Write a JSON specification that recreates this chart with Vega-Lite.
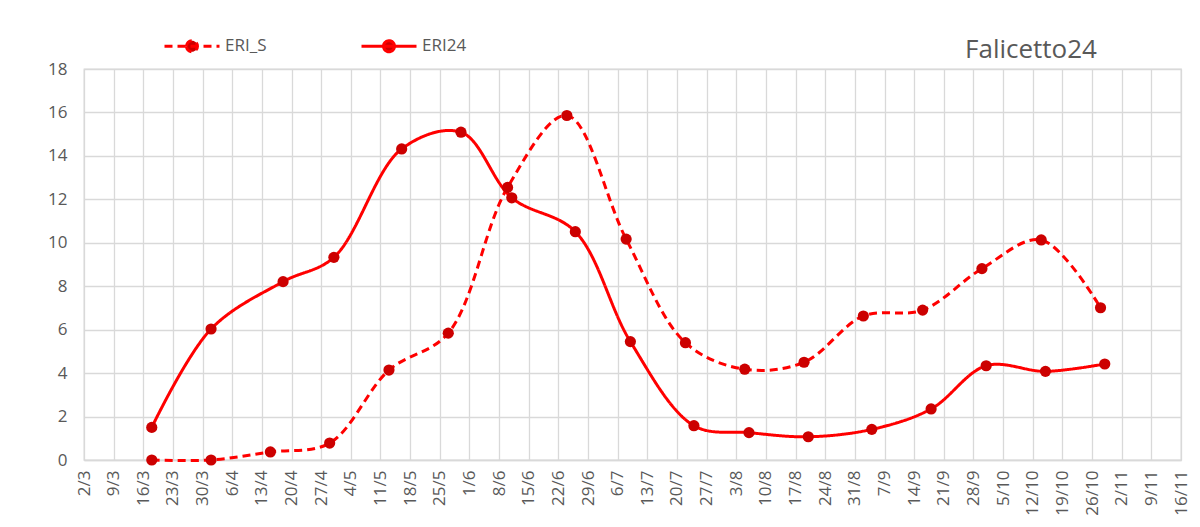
{
  "$schema": "https://vega.github.io/schema/vega-lite/v6.json",
  "autosize": "none",
  "width": 1097,
  "height": 391,
  "padding": {"left": 84, "top": 69, "right": 19, "bottom": 67},
  "background": "white",
  "title": {
    "text": "Falicetto24",
    "anchor": "end",
    "frame": "group",
    "orient": "top",
    "dx": -84,
    "dy": 78,
    "offset": 11,
    "baseline": "alphabetic",
    "font": "Open Sans",
    "fontSize": 26,
    "fontWeight": "normal",
    "color": "#595959"
  },
  "config": {
    "view": {"stroke": "#d9d9d9", "strokeWidth": 1.3},
    "axis": {
      "labelFont": "Open Sans",
      "labelFontSize": 17,
      "labelColor": "#595959",
      "gridColor": "#d9d9d9",
      "gridWidth": 1.3,
      "ticks": false,
      "title": null
    }
  },
  "data": {
    "values": [
      {"series": "ERI_S", "date": "2024-03-18T00:00:00", "value": 0},
      {"series": "ERI_S", "date": "2024-04-01T00:00:00", "value": 0},
      {"series": "ERI_S", "date": "2024-04-15T00:00:00", "value": 0.37},
      {"series": "ERI_S", "date": "2024-04-29T00:00:00", "value": 0.78},
      {"series": "ERI_S", "date": "2024-05-13T00:00:00", "value": 4.14},
      {"series": "ERI_S", "date": "2024-05-27T00:00:00", "value": 5.84},
      {"series": "ERI_S", "date": "2024-06-10T00:00:00", "value": 12.55},
      {"series": "ERI_S", "date": "2024-06-24T00:00:00", "value": 15.86},
      {"series": "ERI_S", "date": "2024-07-08T00:00:00", "value": 10.17},
      {"series": "ERI_S", "date": "2024-07-22T00:00:00", "value": 5.4},
      {"series": "ERI_S", "date": "2024-08-05T00:00:00", "value": 4.18},
      {"series": "ERI_S", "date": "2024-08-19T00:00:00", "value": 4.5},
      {"series": "ERI_S", "date": "2024-09-02T00:00:00", "value": 6.63},
      {"series": "ERI_S", "date": "2024-09-16T00:00:00", "value": 6.9},
      {"series": "ERI_S", "date": "2024-09-30T00:00:00", "value": 8.81},
      {"series": "ERI_S", "date": "2024-10-14T00:00:00", "value": 10.13},
      {"series": "ERI_S", "date": "2024-10-28T00:00:00", "value": 7.01},
      {"series": "ERI24", "date": "2024-03-18T00:00:00", "value": 1.5},
      {"series": "ERI24", "date": "2024-04-01T00:00:00", "value": 6.03},
      {"series": "ERI24", "date": "2024-04-18T00:00:00", "value": 8.21},
      {"series": "ERI24", "date": "2024-04-30T00:00:00", "value": 9.33},
      {"series": "ERI24", "date": "2024-05-16T00:00:00", "value": 14.32},
      {"series": "ERI24", "date": "2024-05-30T00:00:00", "value": 15.09},
      {"series": "ERI24", "date": "2024-06-11T00:00:00", "value": 12.07},
      {"series": "ERI24", "date": "2024-06-26T00:00:00", "value": 10.51},
      {"series": "ERI24", "date": "2024-07-09T00:00:00", "value": 5.45},
      {"series": "ERI24", "date": "2024-07-24T00:00:00", "value": 1.58},
      {"series": "ERI24", "date": "2024-08-06T00:00:00", "value": 1.26},
      {"series": "ERI24", "date": "2024-08-20T00:00:00", "value": 1.07},
      {"series": "ERI24", "date": "2024-09-04T00:00:00", "value": 1.41},
      {"series": "ERI24", "date": "2024-09-18T00:00:00", "value": 2.35},
      {"series": "ERI24", "date": "2024-10-01T00:00:00", "value": 4.34},
      {"series": "ERI24", "date": "2024-10-15T00:00:00", "value": 4.08},
      {"series": "ERI24", "date": "2024-10-29T00:00:00", "value": 4.42}
    ]
  },
  "encoding": {
    "x": {
      "field": "date",
      "type": "temporal",
      "scale": {
        "domain": [
          {"year": 2024, "month": 3, "date": 2},
          {"year": 2024, "month": 11, "date": 16}
        ]
      },
      "axis": {
        "format": "%-d/%-m",
        "labelAngle": -90,
        "labelPadding": 10,
        "labelOverlap": false,
        "domainColor": "#d9d9d9",
        "domainWidth": 1.3,
        "values": [
          {"year": 2024, "month": 3, "date": 2},
          {"year": 2024, "month": 3, "date": 9},
          {"year": 2024, "month": 3, "date": 16},
          {"year": 2024, "month": 3, "date": 23},
          {"year": 2024, "month": 3, "date": 30},
          {"year": 2024, "month": 4, "date": 6},
          {"year": 2024, "month": 4, "date": 13},
          {"year": 2024, "month": 4, "date": 20},
          {"year": 2024, "month": 4, "date": 27},
          {"year": 2024, "month": 5, "date": 4},
          {"year": 2024, "month": 5, "date": 11},
          {"year": 2024, "month": 5, "date": 18},
          {"year": 2024, "month": 5, "date": 25},
          {"year": 2024, "month": 6, "date": 1},
          {"year": 2024, "month": 6, "date": 8},
          {"year": 2024, "month": 6, "date": 15},
          {"year": 2024, "month": 6, "date": 22},
          {"year": 2024, "month": 6, "date": 29},
          {"year": 2024, "month": 7, "date": 6},
          {"year": 2024, "month": 7, "date": 13},
          {"year": 2024, "month": 7, "date": 20},
          {"year": 2024, "month": 7, "date": 27},
          {"year": 2024, "month": 8, "date": 3},
          {"year": 2024, "month": 8, "date": 10},
          {"year": 2024, "month": 8, "date": 17},
          {"year": 2024, "month": 8, "date": 24},
          {"year": 2024, "month": 8, "date": 31},
          {"year": 2024, "month": 9, "date": 7},
          {"year": 2024, "month": 9, "date": 14},
          {"year": 2024, "month": 9, "date": 21},
          {"year": 2024, "month": 9, "date": 28},
          {"year": 2024, "month": 10, "date": 5},
          {"year": 2024, "month": 10, "date": 12},
          {"year": 2024, "month": 10, "date": 19},
          {"year": 2024, "month": 10, "date": 26},
          {"year": 2024, "month": 11, "date": 2},
          {"year": 2024, "month": 11, "date": 9},
          {"year": 2024, "month": 11, "date": 16}
        ]
      }
    },
    "y": {
      "field": "value",
      "type": "quantitative",
      "scale": {"domain": [0, 18], "nice": false, "zero": true},
      "axis": {
        "values": [0, 2, 4, 6, 8, 10, 12, 14, 16, 18],
        "labelPadding": 17,
        "domain": false
      }
    }
  },
  "layer": [
    {
      "mark": {
        "type": "line",
        "interpolate": "catmull-rom",
        "color": "#ff0000",
        "strokeWidth": 3
      },
      "encoding": {
        "strokeDash": {
          "field": "series",
          "type": "nominal",
          "scale": {
            "domain": ["ERI_S", "ERI24"],
            "range": [[8, 5], [1, 0]]
          },
          "legend": {
            "title": null,
            "orient": "none",
            "direction": "horizontal",
            "legendX": 79,
            "legendY": -52,
            "padding": 0,
            "symbolType": "M-1,0H1M-0.2,0A0.2,0.2,0,1,0,0.2,0A0.2,0.2,0,1,0,-0.2,0Z",
            "symbolSize": 3025,
            "symbolStrokeWidth": 3,
            "symbolFillColor": "#cc0000",
            "symbolStrokeColor": "#ff0000",
            "labelOffset": 4,
            "columnPadding": 88,
            "labelFont": "Open Sans",
            "labelFontSize": 17,
            "labelColor": "#595959",
            "encode": {
              "symbols": {
                "update": {
                  "fill": {"value": "#cc0000"},
                  "fillOpacity": {"value": 1},
                  "stroke": {"value": "#ff0000"},
                  "strokeOpacity": {"value": 1},
                  "opacity": {"value": 1}
                }
              }
            }
          }
        }
      }
    },
    {
      "mark": {
        "type": "point",
        "filled": true,
        "color": "#cc0000",
        "opacity": 1,
        "size": 125
      }
    }
  ]
}
